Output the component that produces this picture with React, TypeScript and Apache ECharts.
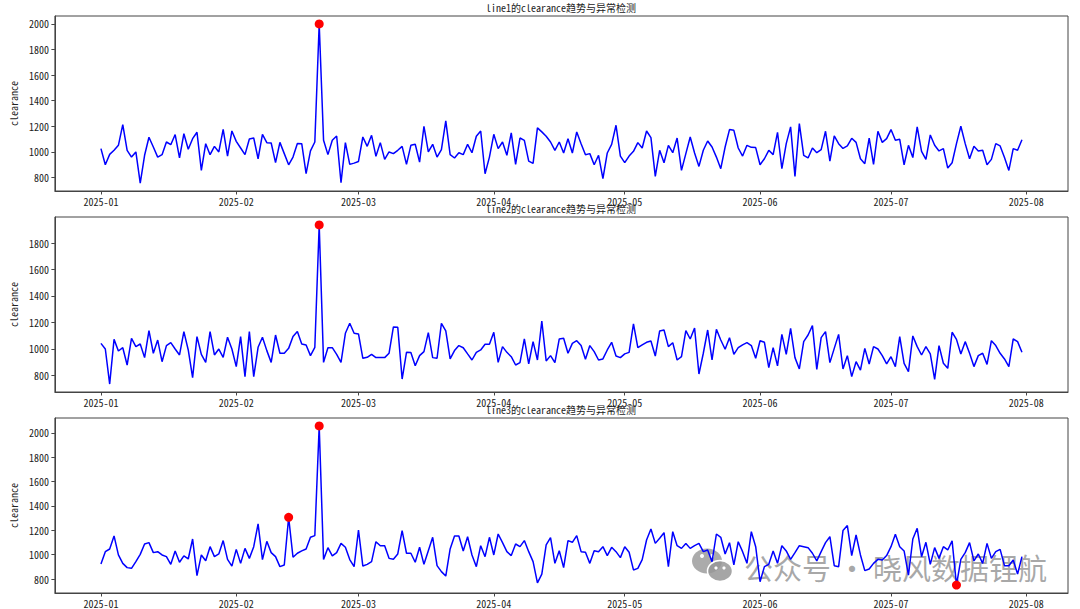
import * as echarts from "echarts";
import { useEffect, useRef } from "react";

// daily samples, 2025-01-01 .. 2025-07-31
const startDate = "2025-01-01";
const monthTicks = [
	"2025-01-01",
	"2025-02-01",
	"2025-03-01",
	"2025-04-01",
	"2025-05-01",
	"2025-06-01",
	"2025-07-01",
	"2025-08-01",
];
const yTicks = [800, 1000, 1200, 1400, 1600, 1800, 2000];

const line1 = [
	1025, 899, 980, 1012, 1051, 1213, 1012, 959, 999, 756,
	973, 1114, 1038, 959, 978, 1077, 1056, 1135, 952, 1142,
	1020, 1103, 1153, 855, 1064, 978, 1043, 999, 1176, 967,
	1163, 1082, 1030, 978, 1100, 1108, 946, 1137, 1072, 1069,
	915, 1074, 986, 899, 959, 1066, 1064, 829, 1007, 1077,
	2000, 1090, 978, 1090, 1124, 758, 1072, 902, 912, 925,
	1116, 1043, 1129, 965, 1072, 941, 999, 986, 1012, 1043,
	902, 1051, 1059, 920, 1200, 999, 1059, 959, 1017, 1242,
	978, 952, 993, 978, 1059, 993, 1122, 1163, 829, 959,
	1137, 1025, 1077, 973, 1148, 902, 1108, 1090, 928, 910,
	1187, 1156, 1122, 1077, 1012, 1077, 991, 1103, 991, 1156,
	1064, 978, 986, 899, 973, 790, 991, 1059, 1208, 967,
	915, 967, 1004, 1072, 1030, 1163, 1111, 808, 1012, 915,
	1051, 993, 1108, 855, 986, 1116, 991, 886, 1012, 1085,
	1038, 959, 868, 1038, 1174, 1168, 1030, 967, 1051, 1035,
	1033, 899, 946, 1012, 978, 1153, 868, 1064, 1195, 808,
	1221, 973, 952, 1030, 993, 1017, 1161, 928, 1124, 1064,
	1027, 1046, 1106, 1074, 946, 907, 1108, 902, 1161, 1074,
	1103, 1174, 1090, 1098, 899, 1051, 955, 1195, 1004, 941,
	1132, 1051, 1007, 1025, 873, 915, 1064, 1200, 1064, 946,
	1043, 1007, 1012, 899, 941, 1064, 1046, 955, 855, 1025,
	1012, 1095,
];

const line2 = [
	1041, 998, 733, 1071, 983, 1008, 877, 1079, 1016, 1036,
	933, 1137, 966, 1066, 902, 1024, 1046, 998, 953, 1130,
	991, 781, 1092, 958, 897, 1130, 953, 998, 935, 1087,
	998, 865, 1092, 789, 1130, 789, 1011, 1087, 986, 897,
	1104, 966, 966, 1003, 1092, 1130, 1036, 1029, 948, 1011,
	1937, 897, 1008, 1008, 958, 897, 1117, 1193, 1117, 1112,
	928, 935, 958, 933, 933, 933, 966, 1165, 1162, 771,
	973, 971, 872, 948, 978, 1122, 933, 928, 1193, 1135,
	923, 986, 1024, 1008, 961, 915, 973, 991, 1034, 1034,
	1125, 897, 1016, 973, 940, 877, 895, 1074, 885, 1054,
	915, 1210, 908, 948, 895, 1074, 1079, 966, 1041, 1061,
	1024, 920, 1024, 978, 915, 923, 991, 1049, 945, 933,
	961, 973, 1188, 1008, 1029, 1049, 1059, 945, 1135, 1142,
	1016, 1046, 915, 940, 1137, 1074, 1157, 809, 966, 1142,
	915, 1147, 1066, 996, 1084, 958, 1008, 1029, 1046, 1024,
	928, 1061, 1049, 857, 1008, 870, 1109, 958, 1155, 933,
	847, 1054, 1104, 1175, 844, 1084, 1130, 895, 1003, 1109,
	847, 948, 789, 902, 839, 1003, 885, 1016, 998, 948,
	885, 940, 865, 1092, 890, 827, 1097, 1016, 953, 1016,
	961, 769, 1024, 890, 852, 1125, 1071, 961, 1054, 966,
	865, 948, 966, 882, 1061, 1024, 966, 923, 865, 1074,
	1054, 973,
];

const line3 = [
	924, 1025, 1047, 1154, 998, 929, 894, 888, 943, 1003,
	1088, 1099, 1017, 1025, 998, 984, 921, 1031, 938, 990,
	965, 1129, 828, 998, 951, 1066, 984, 1006, 1116, 962,
	907, 1044, 929, 1052, 970, 1066, 1253, 960, 1110, 1017,
	984, 902, 916, 1307, 979, 1012, 1031, 1047, 1143, 1157,
	2057, 960, 1058, 990, 1017, 1093, 1061, 960, 902, 1203,
	907, 921, 943, 1107, 1074, 1074, 970, 962, 1006, 1198,
	1012, 1012, 938, 1061, 921, 1033, 1143, 910, 861, 825,
	1047, 1154, 1154, 1031, 1148, 998, 902, 1074, 984, 1143,
	998, 1170, 1099, 1025, 993, 1088, 1066, 1116, 1025, 943,
	769, 841, 1080, 1140, 929, 1033, 894, 1116, 1102, 1157,
	1025, 1020, 929, 1033, 1025, 1066, 993, 1061, 1025, 976,
	1066, 1020, 875, 888, 960, 1121, 1211, 1093, 1135, 1181,
	902, 1189, 1074, 1052, 1093, 1052, 1074, 1093, 1025, 1039,
	943, 1170, 1143, 1006, 1099, 916, 1107, 1025, 929, 1189,
	1066, 778, 902, 921, 1031, 929, 1074, 1031, 962, 1017,
	1074, 1066, 1058, 1012, 949, 1025, 1099, 1148, 910, 902,
	1198, 1239, 993, 1162, 998, 869, 883, 929, 962, 957,
	993, 1066, 1167, 1066, 1031, 833, 1129, 1217, 984, 1102,
	921, 1058, 970, 1066, 1039, 1113, 751, 962, 1017, 1099,
	949, 1006, 929, 1093, 970, 1025, 1044, 910, 910, 957,
	841, 984,
];

// indices of the points flagged as anomalies
const anomalies1 = [50];
const anomalies2 = [50];
const anomalies3 = [43, 50, 196];

const titles = [
	"line1的clearance趋势与异常检测",
	"line2的clearance趋势与异常检测",
	"line3的clearance趋势与异常检测",
];

const DAY = 86400000;
const FONT = "'Noto Sans Mono CJK SC', 'Noto Sans CJK SC', 'DejaVu Sans', sans-serif";
const gridTops = [16, 217, 418];

function toTime(s: string) {
	const [y, m, d] = s.split("-").map(Number);
	return Date.UTC(y, m - 1, d);
}

export default function App() {
	const chartRef = useRef<HTMLDivElement>(null);

	useEffect(() => {
		if (!chartRef.current) return;
		const chart = echarts.init(chartRef.current, null, { renderer: "svg" });

		const lines = [line1, line2, line3];
		const anomalies = [anomalies1, anomalies2, anomalies3];
		const t0 = toTime(startDate);
		const n = line1.length;
		const span = (n - 1) * DAY;
		const xMin = t0 - 0.05 * span;
		const xMax = t0 + span * 1.05;
		const monthTimes = monthTicks.map(toTime);
		const fmtMonth = (v: number) => {
			const d = new Date(v);
			return `${d.getUTCFullYear()}-${String(d.getUTCMonth() + 1).padStart(2, "0")}`;
		};
		const spine = { color: "#444", width: 1 };

		chart.setOption({
			animation: false,
			backgroundColor: "#fff",
			title: titles.map((t, i) => ({
				text: t,
				left: 561,
				top: gridTops[i] - 14,
				textAlign: "center",
				padding: 0,
				textStyle: { fontSize: 10, fontWeight: "normal", color: "#222", fontFamily: FONT },
			})),
			grid: gridTops.map((top) => ({
				left: 54,
				right: 12,
				top,
				height: 175,
				show: true,
				borderColor: "#444",
				borderWidth: 1,
			})),
			xAxis: lines.map((_, i) => ({
				type: "value",
				gridIndex: i,
				min: xMin,
				max: xMax,
				axisLine: { show: true, onZero: false, lineStyle: spine },
				axisTick: { show: true, length: 3.5, lineStyle: spine, customValues: monthTimes },
				axisLabel: {
					customValues: monthTimes,
					formatter: fmtMonth,
					fontSize: 10,
					color: "#222",
					margin: 5,
					fontFamily: FONT,
				},
				splitLine: { show: false },
			})),
			yAxis: lines.map((_, i) => ({
				type: "value",
				gridIndex: i,
				min: (v: { min: number; max: number }) => v.min - 0.05 * (v.max - v.min),
				max: (v: { min: number; max: number }) => v.max + 0.05 * (v.max - v.min),
				name: "clearance",
				nameLocation: "middle",
				nameGap: 27,
				nameTextStyle: { fontSize: 10, color: "#222", fontFamily: FONT },
				axisLine: { show: true, lineStyle: spine },
				axisTick: { show: true, length: 3.5, lineStyle: spine, customValues: yTicks },
				axisLabel: {
					customValues: yTicks,
					formatter: (v: number) => String(v),
					fontSize: 10,
					color: "#222",
					margin: 6,
					fontFamily: FONT,
				},
				splitLine: { show: false },
			})),
			series: lines.flatMap((vals, i) => [
				{
					type: "line",
					xAxisIndex: i,
					yAxisIndex: i,
					data: vals.map((v, j) => [t0 + j * DAY, v]),
					symbol: "none",
					lineStyle: { color: "#0000ff", width: 1.5 },
					itemStyle: { color: "#0000ff" },
					z: 2,
				},
				{
					type: "scatter",
					xAxisIndex: i,
					yAxisIndex: i,
					data: anomalies[i].map((j) => [t0 + j * DAY, vals[j]]),
					symbolSize: 9,
					itemStyle: { color: "#ff0000", opacity: 1 },
					z: 3,
				},
			]),
			graphic: [
				{
					type: "group",
					silent: true,
					children: [
						{
							type: "ellipse",
							shape: { cx: 707, cy: 561, rx: 15, ry: 12.5 },
							style: { fill: "rgba(150,150,150,0.8)" },
						},
						{
							type: "ellipse",
							shape: { cx: 720, cy: 571, rx: 12.5, ry: 10.5 },
							style: { fill: "rgba(150,150,150,0.85)", stroke: "#fff", lineWidth: 1.5 },
						},
						{ type: "circle", shape: { cx: 702, cy: 556, r: 2 }, style: { fill: "#fff" } },
						{ type: "circle", shape: { cx: 712, cy: 556, r: 2 }, style: { fill: "#fff" } },
						{ type: "circle", shape: { cx: 716, cy: 568, r: 1.6 }, style: { fill: "#fff" } },
						{ type: "circle", shape: { cx: 724, cy: 568, r: 1.6 }, style: { fill: "#fff" } },
						{
							type: "text",
							x: 744,
							y: 567,
							style: {
								text: "公众号 · 晓风数据锂航",
								fontSize: 29,
								fontFamily: "'Noto Sans CJK SC', sans-serif",
								fill: "rgba(140,140,140,0.75)",
								textVerticalAlign: "middle",
							},
						},
					],
				},
			],
		});

		return () => {
			chart.dispose();
		};
	}, []);

	return (
		<div
			ref={chartRef}
			style={{ position: "fixed", left: 0, top: 0, width: 1080, height: 609 }}
		/>
	);
}
